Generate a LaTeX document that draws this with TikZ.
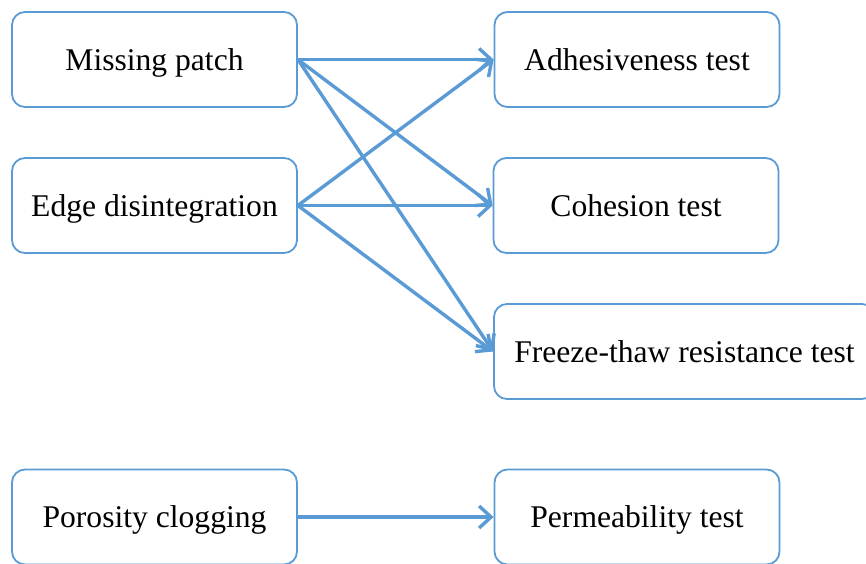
\documentclass[tikz,border=0pt]{standalone}
\usepackage{fontspec}
\setmainfont{Liberation Serif}
\usetikzlibrary{arrows.meta}
\definecolor{lineblue}{RGB}{91,155,213}
\begin{document}
\begin{tikzpicture}[x=1pt,y=-1pt,
  box/.style={draw=lineblue, line width=1.8pt, rounded corners=13pt, fill=white,
    minimum width=285pt, minimum height=95pt, inner sep=0pt,
    text height=21pt, text depth=0pt,
    font=\fontsize{31.6}{36}\selectfont},
  conn/.style={draw=lineblue, line width=3.4pt,
    -{Straight Barb[length=12pt,width=22pt,line width=3.4pt]}}]
\useasboundingbox (0,0) rectangle (866,563);
\clip (0,0) rectangle (866,563);
\node[box] (mp) at (154.5,59.5) {Missing patch};
\node[box] (ed) at (154.5,205.5) {Edge disintegration};
\node[box] (pc) at (154.5,517) {Porosity clogging};
\node[box] (ad) at (637,59.5) {Adhesiveness test};
\node[box] (co) at (636,205.5) {Cohesion test};
\node[box, minimum width=381pt] (ft) at (684.5,351.5) {Freeze-thaw resistance test};
\node[box] (pe) at (637,517) {Permeability test};
\draw[conn] (mp.east) -- (ad.west);
\draw[conn] (mp.east) -- (co.west);
\draw[conn] (mp.east) -- (ft.west);
\draw[conn] (ed.east) -- (ad.west);
\draw[conn] (ed.east) -- (co.west);
\draw[conn] (ed.east) -- (ft.west);
\draw[conn] (pc.east) -- (pe.west);
\end{tikzpicture}
\end{document}
